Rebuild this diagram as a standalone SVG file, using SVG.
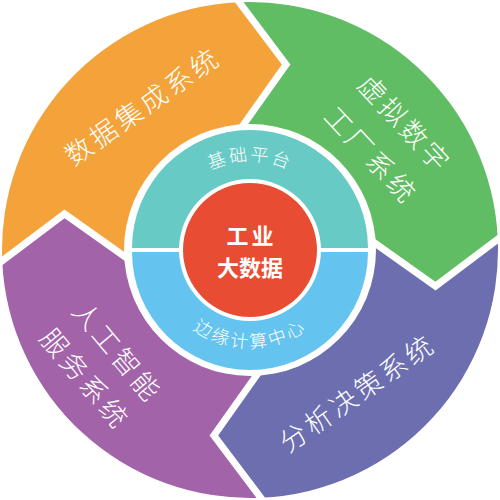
<svg xmlns="http://www.w3.org/2000/svg" width="500" height="500" viewBox="0 0 500 500">
<defs>
<path id="seg" d="M 2.24,260.82 L 64.5,213.9 L 126.2,257.6 A 124 124 0 0 1 242.4,126.2 L 286.1,64.5 L 239.2,2.2 A 248 248 0 0 0 2.24,260.82 Z"/>
<polyline id="gapline" points="242.4,126.2 286.1,64.5 239.2,2.2"/>
<path id="arcTop" d="M 161,250 A 89 89 0 0 1 339,250"/>
<path id="arcBottom" d="M 152,250 A 98 98 0 0 0 348,250"/>
</defs>
<style>
.t{font-family:"Noto Sans CJK SC","Noto Sans",sans-serif;fill:#ffffff;}
.seg-t{font-size:27px;letter-spacing:3.5px;font-weight:300;text-anchor:middle;dominant-baseline:central;}
.gap{fill:none;stroke:#ffffff;stroke-width:7;stroke-linejoin:miter;stroke-miterlimit:10;stroke-linecap:square;}
.ring-t{font-size:18px;letter-spacing:2.5px;font-weight:300;text-anchor:middle;}
.core-t{font-size:22px;font-weight:bold;text-anchor:middle;dominant-baseline:central;}
</style>
<rect width="500" height="500" fill="#ffffff"/>

<g id="seg-data-integration">
<use href="#seg" fill="#F3A33A"/>
<text class="t seg-t" transform="translate(140.3,105.8) rotate(-35)" x="1.75" y="0">数据集成系统</text>
</g>
<g id="seg-virtual-factory">
<use href="#seg" fill="#61BD63" transform="rotate(90 250 250)"/>
<g transform="translate(387.9,137.5) rotate(47)">
<text class="t seg-t" x="1.75" y="-23">虚拟数字</text>
<text class="t seg-t" x="1.75" y="23">工厂系统</text>
</g>
</g>
<g id="seg-decision">
<use href="#seg" fill="#6C6EB0" transform="rotate(180 250 250)"/>
<text class="t seg-t" transform="translate(355,392.5) rotate(-35)" x="1.75" y="0">分析决策系统</text>
</g>
<g id="seg-ai-service">
<use href="#seg" fill="#A263A8" transform="rotate(270 250 250)"/>
<g transform="translate(101.3,363.3) rotate(50)">
<text class="t seg-t" x="1.75" y="-21">人工智能</text>
<text class="t seg-t" x="1.75" y="21">服务系统</text>
</g>
</g>

<g id="gaps">
<use href="#gapline" class="gap"/>
<use href="#gapline" class="gap" transform="rotate(90 250 250)"/>
<use href="#gapline" class="gap" transform="rotate(180 250 250)"/>
<use href="#gapline" class="gap" transform="rotate(270 250 250)"/>
</g>

<circle cx="250" cy="250" r="126" fill="#ffffff"/>

<g id="ring-platform">
<path d="M 132,248 A 118 118 0 0 1 368,248 Z" fill="#67CAC4"/>
<text class="t ring-t"><textPath href="#arcTop" startOffset="50%">基础平台</textPath></text>
</g>
<g id="ring-edge">
<path d="M 132,252 A 118 118 0 0 0 368,252 Z" fill="#65C4EF"/>
<text class="t ring-t"><textPath href="#arcBottom" startOffset="50%">边缘计算中心</textPath></text>
</g>

<g id="core">
<circle cx="250" cy="250" r="71" fill="#ffffff"/>
<circle cx="250" cy="250" r="67" fill="#E84C32"/>
<text class="t core-t" x="251.5" y="234" style="letter-spacing:3px">工业</text>
<text class="t core-t" x="250" y="266">大数据</text>
</g>
</svg>
